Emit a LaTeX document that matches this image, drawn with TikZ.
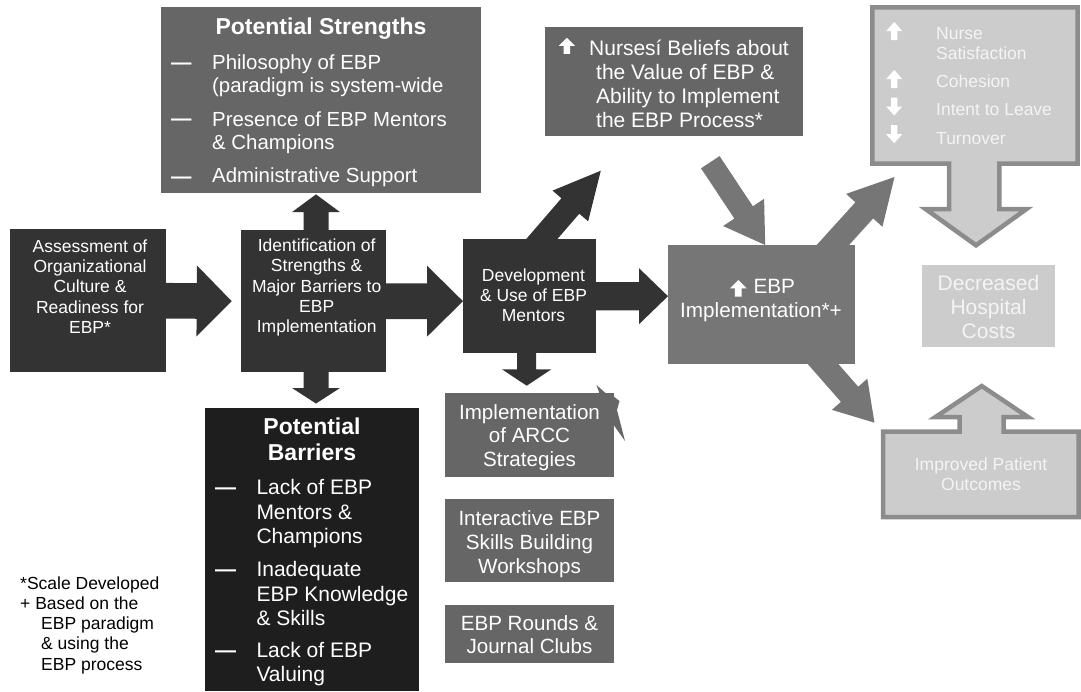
\documentclass[tikz,border=0pt]{standalone}
\usepackage{fontspec}
\setmainfont{Liberation Sans}
\usetikzlibrary{calc}
\definecolor{dk}{HTML}{333333}
\definecolor{vdk}{HTML}{1E1E1E}
\definecolor{md}{HTML}{666666}
\definecolor{mdl}{HTML}{767676}
\definecolor{lt}{HTML}{CCCCCC}
\definecolor{ol}{HTML}{8C8C8C}
\definecolor{wt}{HTML}{F4F4F4}
\newcommand{\fs}[2]{\fontsize{#1}{#2}\selectfont}
% block arrow: colour, tail, tip, shaft half width, head half width, head length
\newcommand{\blockarrow}[6]{%
  \coordinate (bah) at ($(#3)!#6pt!(#2)$);
  \fill[#1] ($(#2)!#4pt!90:(#3)$) -- ($(bah)!#4pt!90:(#3)$) -- ($(bah)!#5pt!90:(#3)$) -- (#3)
    -- ($(bah)!#5pt!-90:(#3)$) -- ($(bah)!#4pt!-90:(#3)$) -- ($(#2)!#4pt!-90:(#3)$) -- cycle;}
\begin{document}
\begin{tikzpicture}[x=1pt,y=-1pt,
  box/.style={draw=none, inner sep=0pt, anchor=north west},
  wtxt/.style={text=white, inner sep=0pt, align=center},
  ltxt/.style={text=white, inner sep=0pt, align=left, anchor=west},
  dashtxt/.style={text=white, inner sep=0pt, anchor=base west},
  upicon/.pic={\fill[white] (0,-0.5) -- (0.5,0) -- (0.2,0) -- (0.2,0.5) -- (-0.2,0.5) -- (-0.2,0) -- (-0.5,0) -- cycle;}
]
\useasboundingbox (0,0) rectangle (1081,691);

% ---------- box positions ----------
\path
  (161,7)   node[box, minimum width=320pt, minimum height=186pt] (strengths) {}
  (10,229)  node[box, minimum width=156pt, minimum height=143pt] (assess) {}
  (241,230) node[box, minimum width=145pt, minimum height=142pt] (ident) {}
  (463,239) node[box, minimum width=133pt, minimum height=114pt] (dev) {}
  (205,408) node[box, minimum width=214pt, minimum height=283pt] (barriers) {}
  (445,393) node[box, minimum width=169pt, minimum height=84pt] (arcc) {}
  (445,499) node[box, minimum width=169pt, minimum height=83pt] (inter) {}
  (445,605) node[box, minimum width=169pt, minimum height=58pt] (rounds) {}
  (545,27)  node[box, minimum width=258pt, minimum height=109pt] (nurses) {}
  (668,245) node[box, minimum width=187pt, minimum height=119pt] (ebp) {}
  (922,265) node[box, minimum width=133pt, minimum height=82pt] (costs) {};

% ---------- arrow end points ----------
\coordinate (a1s) at ($(assess.east)+(-6,0)$);
\coordinate (a1e) at ($(ident.west)+(-9.3,0)$);
\coordinate (a2s) at ($(ident.east)+(-6,0)$);
\coordinate (a2e) at (dev.west |- ident.east);
\coordinate (a3s) at ($(ident.north)+(2.3,10)$);
\coordinate (a3e) at ($(a3s |- strengths.south)+(0,1)$);
\coordinate (a4s) at ($(ident.south)+(2.3,-10)$);
\coordinate (a4e) at ($(a4s |- barriers.north)+(0,-4.5)$);
\coordinate (a5s) at ($(dev.east)+(-6,0)$);
\coordinate (a5e) at (ebp.west |- dev.east);
\coordinate (a6s) at ($(dev.south)+(-3,-8)$);
\coordinate (a6e) at ($(a6s |- arcc.north)+(0,-7.3)$);
\coordinate (a7s) at ($(dev.north)+(-0.9,15.1)$);
\coordinate (a7e) at (600.8,170.7);
\coordinate (a8s) at (710.3,162.2);
\coordinate (a8e) at ($(ebp.north)+(3.5,0)$);
\coordinate (a9s) at (822.8,256.1);
\coordinate (a9e) at (894.5,177);
\coordinate (a10s) at (812.5,352);
\coordinate (a10e) at (874.5,422.7);

% ---------- block arrows ----------
\blockarrow{dk}{a1s}{a1e}{17.8}{35.5}{35}
\blockarrow{dk}{a2s}{a2e}{17.8}{35.5}{36}
\blockarrow{dk}{a3s}{a3e}{12.5}{24}{17.7}
\blockarrow{dk}{a4s}{a4e}{12.5}{24}{15.5}
\blockarrow{dk}{a5s}{a5e}{14.2}{28}{29}
\blockarrow{dk}{a6s}{a6e}{9.5}{24.7}{16.4}
\blockarrow{dk}{a7s}{a7e}{11.8}{23.5}{46.6}
\blockarrow{mdl}{a8s}{a8e}{11.1}{24.6}{39.1}
\blockarrow{mdl}{a9s}{a9e}{12}{24.5}{45}
\blockarrow{mdl}{a10s}{a10e}{11.5}{23.6}{37.8}

% ---------- box fills ----------
\fill[md] (strengths.north west) rectangle (strengths.south east);
\fill[dk] (assess.north west) rectangle (assess.south east);
\fill[dk] (ident.north west) rectangle (ident.south east);
\fill[dk] (dev.north west) rectangle (dev.south east);
\fill[vdk] (barriers.north west) rectangle (barriers.south east);
\fill[md] (arcc.north west) rectangle (arcc.south east);
\fill[md] (inter.north west) rectangle (inter.south east);
\fill[md] (rounds.north west) rectangle (rounds.south east);
\fill[md] (nurses.north west) rectangle (nurses.south east);
\fill[mdl] (ebp.north west) rectangle (ebp.south east);
\fill[lt] (costs.north west) rectangle (costs.south east);

% small fragments beside the ARCC box
\fill[md] (596.5,385) -- (606,393.5) -- (599.5,393.5) -- cycle;
\fill[md] (613,396) -- (619.5,401) -- (617,410) -- (625,441) -- (613,424) -- cycle;

% ---------- outlined box-arrows ----------
\draw[ol, fill=lt, line width=4.5pt, line join=miter]
  (872.3,7.3) -- (1077.7,7.3) -- (1077.7,163.5) -- (999.4,163.5) -- (999.4,209)
  -- (1026.5,209) -- (976,245.3) -- (925.5,209) -- (949,209) -- (949,163.5)
  -- (872.3,163.5) -- cycle;
\draw[ol, fill=lt, line width=4.5pt, line join=miter]
  (883,431.5) -- (959.5,431.5) -- (959.5,417) -- (935.5,417) -- (981.7,386)
  -- (1028,417) -- (1003.5,417) -- (1003.5,431.5) -- (1078.5,431.5)
  -- (1078.5,517) -- (883,517) -- cycle;

% ---------- texts ----------
\node[wtxt, font=\bfseries\fs{23}{26}] (strT) at (321,28.3) {Potential Strengths};
\node[dashtxt, font=\bfseries\fs{20.4}{23.3}] (strD1) at (171,69) {—};
\node[dashtxt, font=\bfseries\fs{20.4}{23.3}] (strD2) at (171,125.6) {—};
\node[dashtxt, font=\bfseries\fs{20.4}{23.3}] (strD3) at (171,183) {—};
\node[ltxt, font=\fs{20.4}{23.3}] (strI1) at (212,75.4) {Philosophy of EBP\\(paradigm is system-wide};
\node[ltxt, font=\fs{20.4}{23.3}] (strI2) at (212,132.5) {Presence of EBP Mentors\\\& Champions};
\node[ltxt, font=\fs{20.4}{23.3}] (strI3) at (212,177.7) {Administrative Support};

\node[wtxt, font=\fs{17.5}{20.3}] (assessT) at (90,286.6) {Assessment of\\Organizational\\Culture \&\\Readiness for\\EBP*};
\node[wtxt, font=\fs{17.5}{20.4}] (identT) at (316.7,287.6) {Identification of\\Strengths \&\\Major Barriers to\\EBP\\Implementation};
\node[wtxt, font=\fs{17.5}{20}] (devT) at (533.5,295) {Development\\\& Use of EBP\\Mentors};

\node[wtxt, font=\bfseries\fs{23}{26}] (barT) at (312,439.7) {Potential\\Barriers};
\node[dashtxt, font=\bfseries\fs{21}{24.3}] (barD1) at (215,494.9) {—};
\node[dashtxt, font=\bfseries\fs{21}{24.3}] (barD2) at (215,576.9) {—};
\node[dashtxt, font=\bfseries\fs{21}{24.3}] (barD3) at (215,657.6) {—};
\node[ltxt, font=\fs{21}{24.3}] (barI1) at (256.3,513.8) {Lack of EBP\\Mentors \&\\Champions};
\node[ltxt, font=\fs{21}{24.3}] (barI2) at (256.3,593.5) {Inadequate\\EBP Knowledge\\\& Skills};
\node[ltxt, font=\fs{21}{24.3}] (barI3) at (256.3,664.3) {Lack of EBP\\Valuing};

\node[wtxt, font=\fs{20.6}{23.8}] (arccT) at (529.5,437.6) {Implementation\\of ARCC\\Strategies};
\node[wtxt, font=\fs{20.6}{23.8}] (interT) at (529.5,544) {Interactive EBP\\Skills Building\\Workshops};
\node[wtxt, font=\fs{20.6}{23.8}] (roundsT) at (529.5,634.7) {EBP Rounds \&\\Journal Clubs};

\pic[xscale=16,yscale=16] at (566.8,45.8) {upicon};
\node[ltxt, font=\fs{21}{23.9}] (nursesT) at (596,84) {\hspace*{-7pt}Nursesí Beliefs about\\the Value of EBP \&\\Ability to Implement\\the EBP Process*};

\pic[xscale=16.7,yscale=16.7] at (738.3,288.3) {upicon};
\node[text=white, inner sep=0pt, anchor=west, font=\fs{20.7}{23.3}] (ebpT1) at (753.3,286.7) {EBP};
\node[wtxt, font=\fs{20.7}{23.3}] (ebpT2) at (761,312.1) {Implementation*+};

\pic[xscale=16,yscale=18] at (894.2,31) {upicon};
\pic[xscale=16,yscale=18] at (894.2,79) {upicon};
\pic[xscale=16,yscale=-18] at (894.2,106.5) {upicon};
\pic[xscale=16,yscale=-18] at (894.2,134.2) {upicon};
\node[ltxt, text=wt, font=\fs{17.5}{20}] (nsT1) at (936,43.3) {Nurse\\Satisfaction};
\node[ltxt, text=wt, font=\fs{17.5}{20}] (nsT2) at (936,81.7) {Cohesion};
\node[ltxt, text=wt, font=\fs{17.5}{20}] (nsT3) at (936,110) {Intent to Leave};
\node[ltxt, text=wt, font=\fs{17.5}{20}] (nsT4) at (936,138.3) {Turnover};

\node[wtxt, text=wt, font=\fs{21}{24}] (costsT) at (988.5,306.7) {Decreased\\Hospital\\Costs};
\node[wtxt, text=wt, font=\fs{17.5}{20}] (impT) at (981,474) {Improved Patient\\Outcomes};

\node[inner sep=0pt, align=left, anchor=west, font=\fs{17.5}{20.3}] (foot) at (20,625.1)
  {*Scale Developed\\+ Based on the\\\hspace*{21pt}EBP paradigm\\\hspace*{21pt}\& using the\\\hspace*{21pt}EBP process};
\end{tikzpicture}
\end{document}
